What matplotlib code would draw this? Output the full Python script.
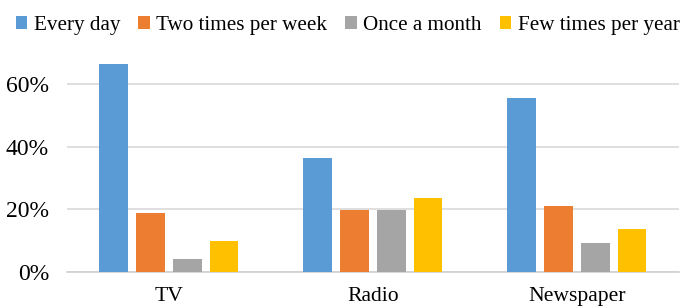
import numpy as np
import matplotlib
matplotlib.use("Agg")
import matplotlib.pyplot as plt
from matplotlib.ticker import PercentFormatter

categories = ["TV", "Radio", "Newspaper"]
series_names = ["Every day", "Two times per week", "Once a month", "Few times per year"]
every_day = [0.665, 0.363, 0.558]
two_per_week = [0.189, 0.198, 0.210]
once_month = [0.042, 0.198, 0.091]
few_per_year = [0.097, 0.235, 0.136]
colors = ["#5B9BD5", "#ED7D31", "#A5A5A5", "#FFC000"]

plt.rcParams['font.family'] = ['Liberation Serif', 'DejaVu Serif']

fig = plt.figure(figsize=(6.83, 3.08), dpi=100)
ax = fig.add_axes([0.098, 0.118, 0.896, 0.709])

x = np.arange(len(categories))
step = 0.18
width = 0.142
values = [every_day, two_per_week, once_month, few_per_year]
for i, (name, vals) in enumerate(zip(series_names, values)):
    ax.bar(x + (i - 1.5) * step, vals, width, color=colors[i], label=name, zorder=3)

ax.set_xlim(-0.5, len(categories) - 0.5)
ax.set_ylim(0, 0.70)
ax.set_yticks([0, 0.2, 0.4, 0.6])
ax.yaxis.set_major_formatter(PercentFormatter(1.0, decimals=0))
ax.set_xticks(x)
ax.set_xticklabels(categories)
ax.tick_params(axis='both', length=0, colors='#000000')
ax.tick_params(axis='y', pad=13, labelsize=17)
ax.tick_params(axis='x', pad=11, labelsize=15.6)
ax.grid(axis='y', color='#D9D9D9', linewidth=1.2, zorder=0)
for s in ['top', 'right', 'left']:
    ax.spines[s].set_visible(False)
ax.spines['bottom'].set_color('#D0D0D0')
ax.spines['bottom'].set_linewidth(1.2)

fig.legend(loc='upper center', bbox_to_anchor=(0.509, 1.01), ncol=4, frameon=False,
           fontsize=15.2, handlelength=0.55, handleheight=0.55, handletextpad=0.3,
           columnspacing=0.86)

fig.savefig("out.png", dpi=100)
